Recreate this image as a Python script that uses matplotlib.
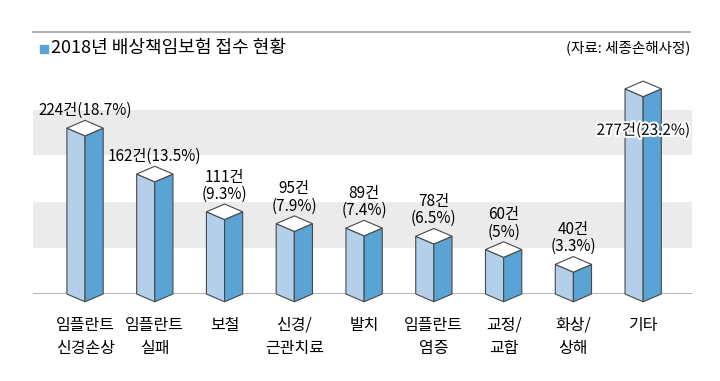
import matplotlib
matplotlib.use('Agg')
import matplotlib.pyplot as plt
import matplotlib.patheffects as pe
from matplotlib.patches import Polygon, Rectangle

plt.rcParams['font.family'] = ['Noto Sans CJK KR', 'DejaVu Sans']

# 데이터
categories = ['임플란트\n신경손상', '임플란트\n실패', '보철', '신경/\n근관치료', '발치',
              '임플란트\n염증', '교정/\n교합', '화상/\n상해', '기타']
counts = [224, 162, 111, 95, 89, 78, 60, 40, 277]
shares = ['18.7', '13.5', '9.3', '7.9', '7.4', '6.5', '5', '3.3', '23.2']
two_line = [False, False, True, True, True, True, True, True, False]

LIGHT = '#b4cfea'
DARK = '#5aa3d5'
EDGE = '#484848'

fig = plt.figure(figsize=(7.2, 3.81), dpi=100)
# axes in pixel layout: x 33..692, baseline at y=294
W, H = 720, 381
ax = fig.add_axes([33 / W, (H - 294) / H, (692 - 33) / W, (294 - 60) / H])
ax.set_xlim(-0.746, 8.70)
ax.set_ylim(0, 316)
ax.axis('off')

# 배경 띠
ax.axhspan(62, 124, color='#ebebeb', zorder=0, lw=0)
ax.axhspan(188, 249, color='#ebebeb', zorder=0, lw=0)
ax.axhline(0, color='#a8a8a8', lw=1.2, zorder=1)

hw = 0.26   # half width
d = 10.5    # vertical depth of top/bottom diamond

for i, v in enumerate(counts):
    x = i
    left = Polygon([(x - hw, 0), (x - hw, v), (x, v - d), (x, -d)], closed=True,
                   fc=LIGHT, ec=EDGE, lw=0.8, zorder=3, clip_on=False)
    right = Polygon([(x, -d), (x, v - d), (x + hw, v), (x + hw, 0)], closed=True,
                    fc=DARK, ec=EDGE, lw=0.8, zorder=3, clip_on=False)
    top = Polygon([(x - hw, v), (x, v + d), (x + hw, v), (x, v - d)], closed=True,
                  fc='white', ec=EDGE, lw=0.8, zorder=4, clip_on=False)
    ax.add_patch(left)
    ax.add_patch(right)
    ax.add_patch(top)

    if i == len(counts) - 1:
        ax.text(x, 221, f'{v}건({shares[i]}%)', ha='center', va='center', fontsize=11,
                zorder=6, path_effects=[pe.withStroke(linewidth=3, foreground='white')])
    else:
        sep = '\n' if two_line[i] else ''
        ax.annotate(f'{v}건{sep}({shares[i]}%)', (x, v + d), xytext=(0, 1),
                    textcoords='offset points', ha='center', va='bottom',
                    fontsize=11, linespacing=1.0, zorder=6)

    ax.text(x, -31, categories[i], ha='center', va='top', fontsize=11.5,
            linespacing=1.5, clip_on=False)

# 제목
fig.add_artist(plt.Line2D([33 / W, 690 / W], [1 - 32 / H, 1 - 32 / H],
                          color='#b0b0b0', lw=1.5))
fig.add_artist(Rectangle((40 / W, 1 - 52.5 / H), 8 / W, 8 / H, color='#5aa3d5',
                         transform=fig.transFigure))
fig.text(51 / W, 1 - 48 / H, '2018년 배상책임보험 접수 현황', ha='left', va='center',
         fontsize=13)
fig.text(690 / W, 1 - 48 / H, '(자료: 세종손해사정)', ha='right', va='center',
         fontsize=10.5)

fig.savefig('out.png', dpi=100)
